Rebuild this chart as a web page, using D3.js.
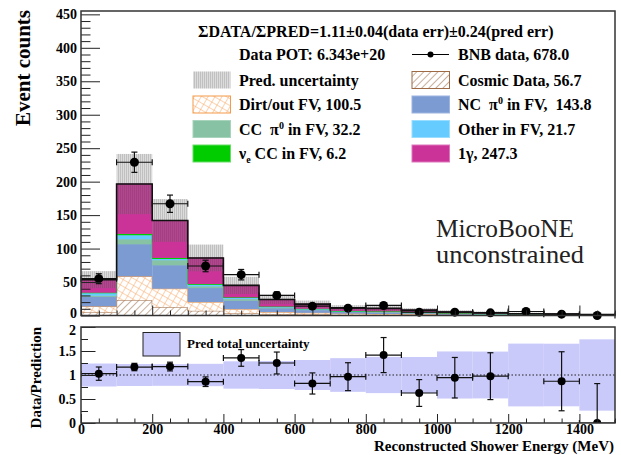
<!DOCTYPE html>
<html>
<head>
<meta charset="utf-8">
<script src="https://cdn.jsdelivr.net/npm/d3@7"></script>
<style>
body { margin: 0; background: #fff; }
svg { display: block; font-family: "Liberation Serif", "Times New Roman", serif; }
</style>
</head>
<body>
<div id="chart"></div>
<script>
// bins of reconstructed shower energy (MeV), 100 MeV wide
const binLow = [0, 100, 200, 300, 400, 500, 600, 700, 800, 900, 1000, 1100, 1200, 1300, 1400];
const binWidth = 100;

// stacked prediction, bottom to top
const cosmic   = [4.5, 23, 12.5, 7, 3, 2, 1.5, 1, 0.8, 0.7, 0.5, 0.4, 0.3, 0.3, 0.2];
const dirt     = [9, 35.4, 27.5, 13, 6.5, 3, 2.5, 1.7, 1.5, 1.2, 0.8, 0.6, 0.4, 0.3, 0.2];
const ncPi0    = [14.5, 48, 35, 21, 12.5, 5.5, 4, 2.5, 2.3, 1.5, 1, 0.8, 0.5, 0.4, 0.2];
const ccPi0    = [1.5, 7.5, 7.5, 2.5, 2.5, 1.5, 1, 0.7, 0.8, 0.7, 0.6, 0.5, 0.5, 0.4, 0.2];
const otherFV  = [4, 6, 2, 2.5, 2, 1, 0.8, 0.6, 0.6, 0.6, 0.4, 0.3, 0.3, 0.3, 0.2];
const nueCC    = [0.5, 2, 1.5, 1, 0.5, 0.3, 0.2, 0.2, 0.2, 0.2, 0.1, 0.1, 0.1, 0.1, 0];
const oneGamma = [19.5, 74.5, 56, 39, 18, 10.7, 7, 4.7, 4.4, 3.1, 1.9, 1.4, 0.5, 0.5, 0.4];

// total prediction uncertainty (absolute)
const predErr = [12.8, 45, 32, 20, 12.8, 7, 5.3, 4, 4, 3, 2.6, 2, 1.7, 1.5, 1.04];

// BNB data counts
const dataCounts = [55, 229, 167, 74, 61, 30, 14, 11, 15, 5, 5, 4, 6, 2, 0];

const keys = ["cosmic", "dirt", "ncPi0", "ccPi0", "otherFV", "nueCC", "oneGamma"];
const rows = binLow.map((lo, i) => ({
    lo: lo,
    cosmic: cosmic[i], dirt: dirt[i], ncPi0: ncPi0[i], ccPi0: ccPi0[i],
    otherFV: otherFV[i], nueCC: nueCC[i], oneGamma: oneGamma[i],
    err: predErr[i], data: dataCounts[i]
}));
rows.forEach(r => {
    r.pred = d3.sum(keys, k => r[k]);
    r.dataErr = r.data > 0 ? Math.sqrt(r.data) : 1.15;
});

const width = 621, height = 455;
const svg = d3.select("#chart").append("svg")
    .attr("width", width).attr("height", height);

const defs = svg.append("defs");
// cosmic hatch
const pc = defs.append("pattern").attr("id", "hatchCosmic")
    .attr("patternUnits", "userSpaceOnUse").attr("width", 5).attr("height", 5)
    .attr("patternTransform", "rotate(45)");
pc.append("rect").attr("width", 5).attr("height", 5).attr("fill", "#fff");
pc.append("line").attr("x1", 0).attr("y1", 0).attr("x2", 0).attr("y2", 5)
    .attr("stroke", "#a27a5a").attr("stroke-width", 1.2);
// dirt cross hatch
const pd = defs.append("pattern").attr("id", "hatchDirt")
    .attr("patternUnits", "userSpaceOnUse").attr("width", 6).attr("height", 6)
    .attr("patternTransform", "rotate(30)");
pd.append("rect").attr("width", 6).attr("height", 6).attr("fill", "#fff");
pd.append("line").attr("x1", 0).attr("y1", 0).attr("x2", 0).attr("y2", 6)
    .attr("stroke", "#f7a766").attr("stroke-width", 1);
pd.append("line").attr("x1", 0).attr("y1", 0).attr("x2", 6).attr("y2", 0)
    .attr("stroke", "#f7a766").attr("stroke-width", 1);
// uncertainty band stripes
const pb = defs.append("pattern").attr("id", "bandPat")
    .attr("patternUnits", "userSpaceOnUse").attr("width", 2).attr("height", 2);
pb.append("rect").attr("width", 1).attr("height", 2).attr("fill", "rgba(90,90,90,0.38)");
pb.append("rect").attr("x", 1).attr("width", 1).attr("height", 2).attr("fill", "rgba(120,120,120,0.26)");

const fills = {
    cosmic: "url(#hatchCosmic)", dirt: "url(#hatchDirt)", ncPi0: "#7b9bd2",
    ccPi0: "#86c2a3", otherFV: "#66ccff", nueCC: "#00cc00", oneGamma: "#cc3399"
};
const edges = {
    cosmic: "#9c6b45", dirt: "#f59a4a", ncPi0: "#7b9bd2",
    ccPi0: "#86c2a3", otherFV: "#66ccff", nueCC: "#00cc00", oneGamma: "#cc3399"
};

// ---------- top panel ----------
const x = d3.scaleLinear().domain([0, 1500]).range([81, 615]);
const y = d3.scaleLinear().domain([0, 455]).range([315.5, 11]);

defs.append("clipPath").attr("id", "clipTop").append("rect")
    .attr("x", 81).attr("y", 11).attr("width", 534).attr("height", 304.5);

const topG = svg.append("g").attr("clip-path", "url(#clipTop)");
const series = d3.stack().keys(keys)(rows);

function stepPts(vals) {
    const pts = [];
    rows.forEach((r, i) => { pts.push([r.lo, vals[i]]); pts.push([r.lo + binWidth, vals[i]]); });
    return pts;
}
const stepLine = d3.line().x(p => x(p[0])).y(p => y(p[1]));

series.forEach(s => {
    topG.append("g").selectAll("rect").data(s).join("rect")
        .attr("x", d => x(d.data.lo))
        .attr("width", x(binWidth) - x(0))
        .attr("y", d => y(d[1]))
        .attr("height", d => y(d[0]) - y(d[1]))
        .attr("fill", fills[s.key]);
    topG.append("path").attr("d", stepLine(stepPts(s.map(d => d[1]))))
        .attr("fill", "none").attr("stroke", edges[s.key]).attr("stroke-width", 1);
});

// prediction uncertainty band
topG.append("g").selectAll("rect").data(rows).join("rect")
    .attr("x", d => x(d.lo))
    .attr("width", x(binWidth) - x(0))
    .attr("y", d => y(d.pred + d.err))
    .attr("height", d => y(d.pred - d.err) - y(d.pred + d.err))
    .attr("fill", "url(#bandPat)");

// total outline
topG.append("path").attr("d", stepLine(stepPts(rows.map(r => r.pred))))
    .attr("fill", "none").attr("stroke", "#111").attr("stroke-width", 1.6);

// data points with error bars and end caps
function drawPoints(g, sel, xs, ys, up, dn, r) {
    const pts = g.append("g").selectAll("g").data(sel).join("g");
    pts.append("line").attr("x1", d => x(d.lo)).attr("x2", d => x(d.lo + binWidth))
        .attr("y1", ys).attr("y2", ys).attr("stroke", "#111").attr("stroke-width", 1.2);
    pts.append("line").attr("x1", xs).attr("x2", xs)
        .attr("y1", up).attr("y2", dn).attr("stroke", "#111").attr("stroke-width", 1.2);
    [d => x(d.lo), d => x(d.lo + binWidth)].forEach(fx => {
        pts.append("line").attr("x1", fx).attr("x2", fx)
            .attr("y1", d => ys(d) - 3).attr("y2", d => ys(d) + 3)
            .attr("stroke", "#111").attr("stroke-width", 1.2);
    });
    [up, dn].forEach(fy => {
        pts.append("line").attr("x1", d => xs(d) - 3).attr("x2", d => xs(d) + 3)
            .attr("y1", fy).attr("y2", fy).attr("stroke", "#111").attr("stroke-width", 1.2);
    });
    pts.append("circle").attr("cx", xs).attr("cy", ys).attr("r", r).attr("fill", "#000");
}
drawPoints(svg, rows,
    d => x(d.lo + binWidth / 2), d => y(d.data),
    d => y(d.data + d.dataErr), d => y(Math.max(0, d.data - d.dataErr)), 4.5);

// axes, top
const yMajor = d3.range(0, 451, 50);
const yMinor = d3.range(0, 455, 10).filter(v => v % 50 !== 0);
svg.append("g").attr("transform", "translate(81,0)")
    .call(d3.axisLeft(y).tickValues(yMinor).tickSize(-9.5).tickFormat(""))
    .call(g => g.select(".domain").remove());
svg.append("g").attr("transform", "translate(81,0)")
    .call(d3.axisLeft(y).tickValues(yMajor).tickSize(-19).tickPadding(4).tickFormat(d3.format("d")))
    .call(g => g.select(".domain").remove())
    .call(g => g.selectAll("text").attr("font-size", 14).attr("font-weight", "bold")
        .attr("font-family", "Liberation Serif").attr("fill", "#000")
        .attr("dy", d => d === 0 ? "0.12em" : "0.32em"));

const xMajor = d3.range(0, 1501, 200);
const xMinor = d3.range(0, 1501, 50).filter(v => v % 200 !== 0);
svg.append("g").attr("transform", "translate(0,315.5)")
    .call(d3.axisBottom(x).tickValues(xMinor).tickSize(-5).tickFormat(""))
    .call(g => g.select(".domain").remove());
svg.append("g").attr("transform", "translate(0,315.5)")
    .call(d3.axisBottom(x).tickValues(xMajor).tickSize(-10).tickFormat(""))
    .call(g => g.select(".domain").remove());

svg.append("rect").attr("x", 81).attr("y", 11).attr("width", 534).attr("height", 304.5)
    .attr("fill", "none").attr("stroke", "#333").attr("stroke-width", 1.5);

svg.append("text").attr("transform", "translate(30,10) rotate(-90)")
    .attr("text-anchor", "end").attr("font-size", 21).attr("font-weight", "bold")
    .text("Event counts");

// legend
const nb = "\u00A0";
const leg = svg.append("g").attr("font-weight", "bold").attr("font-size", 16);
leg.append("text").attr("x", 198).attr("y", 37)
    .text("ΣDATA/ΣPRED=1.11±0.04(data err)±0.24(pred err)");
leg.append("text").attr("x", 239).attr("y", 60).text("Data POT: 6.343e+20");
leg.append("line").attr("x1", 412).attr("x2", 449).attr("y1", 54.5).attr("y2", 54.5)
    .attr("stroke", "#000").attr("stroke-width", 1.2);
leg.append("circle").attr("cx", 430.5).attr("cy", 54.5).attr("r", 3).attr("fill", "#000");
leg.append("text").attr("x", 458).attr("y", 60).text("BNB data, 678.0");

const legItems = [
    { col: 0, row: 0, fill: "url(#bandPat)", stroke: "none", label: ["Pred. uncertainty"] },
    { col: 1, row: 0, fill: fills.cosmic, stroke: edges.cosmic, label: ["Cosmic Data, 56.7"] },
    { col: 0, row: 1, fill: fills.dirt, stroke: edges.dirt, label: ["Dirt/out FV, 100.5"] },
    { col: 1, row: 1, fill: fills.ncPi0, stroke: "#9db4e0", label: ["NC" + nb + nb + "π", "0", " in FV," + nb + nb + "143.8"], sup: true },
    { col: 0, row: 2, fill: fills.ccPi0, stroke: "#a8d4bd", label: ["CC" + nb + nb + "π", "0", " in FV, 32.2"], sup: true },
    { col: 1, row: 2, fill: fills.otherFV, stroke: "#99ddff", label: ["Other in FV, 21.7"] },
    { col: 0, row: 3, fill: fills.nueCC, stroke: "#66dd66", label: ["ν", "e", " CC in FV, 6.2"], sub: true },
    { col: 1, row: 3, fill: fills.oneGamma, stroke: "#dd77bb", label: ["1γ, 247.3"] }
];
const rowY = [80, 104.5, 129, 153.5];
const boxX = [193, 412], textX = [239, 458];
legItems.forEach(it => {
    const cy = rowY[it.row];
    leg.append("rect").attr("x", boxX[it.col]).attr("y", cy - 8.5)
        .attr("width", 37.5).attr("height", 17)
        .attr("fill", it.fill).attr("stroke", it.stroke).attr("stroke-width", 1);
    const t = leg.append("text").attr("x", textX[it.col]).attr("y", cy + 5.5);
    if (it.label.length === 1) {
        t.text(it.label[0]);
    } else {
        t.append("tspan").text(it.label[0]);
        const shift = it.sup ? -6 : 4;
        t.append("tspan").attr("dy", shift).attr("font-size", 10).text(it.label[1]);
        t.append("tspan").attr("dy", -shift).text(it.label[2]);
    }
});

svg.append("text").attr("x", 436).attr("y", 237).attr("font-size", 25)
    .attr("fill", "#222").attr("textLength", 138).attr("lengthAdjust", "spacingAndGlyphs")
    .text("MicroBooNE");
svg.append("text").attr("x", 436).attr("y", 263).attr("font-size", 25)
    .attr("fill", "#222").attr("textLength", 148).attr("lengthAdjust", "spacingAndGlyphs")
    .text("unconstrained");

// ---------- ratio panel ----------
const yr = d3.scaleLinear().domain([0, 2]).range([423, 327]);
defs.append("clipPath").attr("id", "clipBot").append("rect")
    .attr("x", 81).attr("y", 327).attr("width", 534).attr("height", 96);
const bot = svg.append("g").attr("clip-path", "url(#clipBot)");

bot.append("g").selectAll("rect").data(rows).join("rect")
    .attr("x", d => x(d.lo))
    .attr("width", x(binWidth) - x(0))
    .attr("y", d => yr(1 + d.err / d.pred))
    .attr("height", d => yr(1 - d.err / d.pred) - yr(1 + d.err / d.pred))
    .attr("fill", "#c9c9fa");

bot.append("line").attr("x1", x(0)).attr("x2", x(1500)).attr("y1", yr(1)).attr("y2", yr(1))
    .attr("stroke", "#222").attr("stroke-width", 1.2).attr("stroke-dasharray", "1.5,2");

const inRange = rows.filter(d => d.data / d.pred <= 2);
drawPoints(bot, inRange,
    d => x(d.lo + binWidth / 2), d => yr(d.data / d.pred),
    d => yr((d.data + d.dataErr) / d.pred), d => yr(Math.max(0, (d.data - d.dataErr) / d.pred)), 4);

// ratio legend
svg.append("rect").attr("x", 143).attr("y", 332.5).attr("width", 37).attr("height", 23.5)
    .attr("fill", "#c9c9fa").attr("stroke", "#222").attr("stroke-width", 1);
svg.append("text").attr("x", 187).attr("y", 347.5).attr("font-size", 13).attr("font-weight", "bold")
    .text("Pred total uncertainty");

const rMajor = [0, 0.5, 1, 1.5, 2];
const rMinor = [0.25, 0.75, 1.25, 1.75];
svg.append("g").attr("transform", "translate(81,0)")
    .call(d3.axisLeft(yr).tickValues(rMinor).tickSize(-7).tickFormat(""))
    .call(g => g.select(".domain").remove());
svg.append("g").attr("transform", "translate(81,0)")
    .call(d3.axisLeft(yr).tickValues(rMajor).tickSize(-14.5).tickPadding(5).tickFormat(d3.format("")))
    .call(g => g.select(".domain").remove())
    .call(g => g.selectAll("text").attr("font-size", 14).attr("font-weight", "bold")
        .attr("font-family", "Liberation Serif").attr("fill", "#000")
        .attr("dy", d => d === 2 ? "0.5em" : "0.32em"));

svg.append("g").attr("transform", "translate(0,423)")
    .call(d3.axisBottom(x).tickValues(xMinor).tickSize(-4.5).tickFormat(""))
    .call(g => g.select(".domain").remove());
svg.append("g").attr("transform", "translate(0,423)")
    .call(d3.axisBottom(x).tickValues(xMajor.slice(0, 8)).tickSize(-9).tickPadding(4).tickFormat(d3.format("d")))
    .call(g => g.select(".domain").remove())
    .call(g => g.selectAll("text").attr("font-size", 14).attr("font-weight", "bold")
        .attr("font-family", "Liberation Serif").attr("fill", "#000").attr("dy", "0.5em"));
svg.selectAll(".tick line").attr("stroke", "#222");

svg.append("rect").attr("x", 81).attr("y", 327).attr("width", 534).attr("height", 96)
    .attr("fill", "none").attr("stroke", "#333").attr("stroke-width", 1.5);

svg.append("text").attr("transform", "translate(41,327) rotate(-90)")
    .attr("text-anchor", "end").attr("font-size", 15).attr("font-weight", "bold")
    .text("Data/Prediction");
svg.append("text").attr("x", 614).attr("y", 451).attr("text-anchor", "end")
    .attr("font-size", 15).attr("font-weight", "bold")
    .text("Reconstructed Shower Energy (MeV)");
</script>
</body>
</html>
